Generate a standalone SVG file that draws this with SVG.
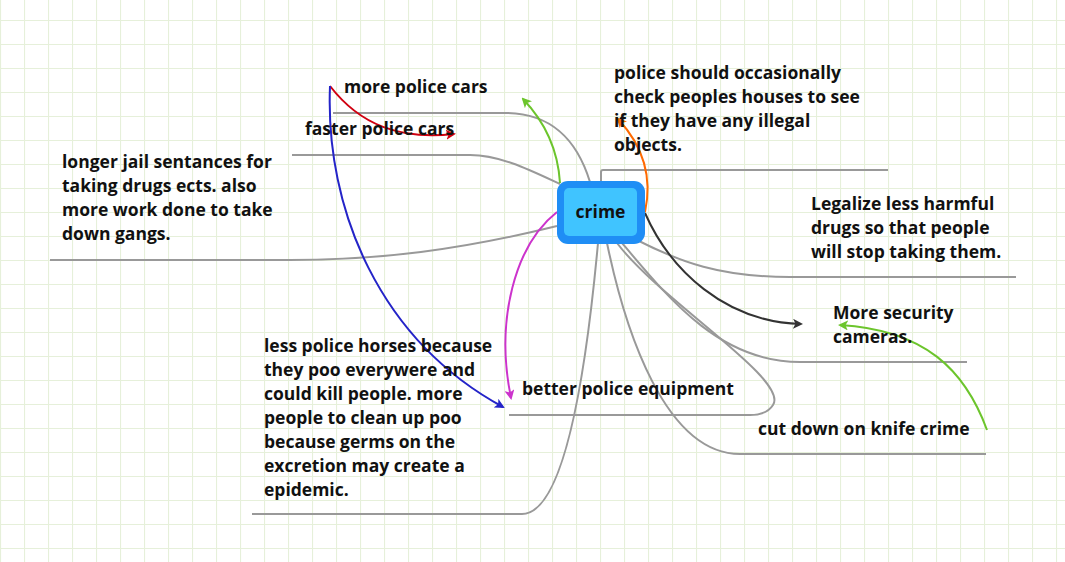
<svg xmlns="http://www.w3.org/2000/svg" width="1065" height="562" viewBox="0 0 1065 562">
<defs>
<pattern id="grid" patternUnits="userSpaceOnUse" x="0" y="20" width="24" height="24">
<path d="M0,0.5 H24 M0.5,0 V24" fill="none" stroke="#e6f0da" stroke-width="1.2"/>
</pattern>
<marker id="mGreen" viewBox="0 0 10 10" refX="8" refY="5" markerWidth="5" markerHeight="5" orient="auto" markerUnits="strokeWidth"><path d="M0,0 L10,5 L0,10 L2.5,5 Z" fill="#6cc52c"/></marker>
<marker id="mRed" viewBox="0 0 10 10" refX="8" refY="5" markerWidth="5" markerHeight="5" orient="auto" markerUnits="strokeWidth"><path d="M0,0 L10,5 L0,10 L2.5,5 Z" fill="#d00010"/></marker>
<marker id="mBlue" viewBox="0 0 10 10" refX="8" refY="5" markerWidth="5" markerHeight="5" orient="auto" markerUnits="strokeWidth"><path d="M0,0 L10,5 L0,10 L2.5,5 Z" fill="#2424c8"/></marker>
<marker id="mMag" viewBox="0 0 10 10" refX="8" refY="5" markerWidth="5" markerHeight="5" orient="auto" markerUnits="strokeWidth"><path d="M0,0 L10,5 L0,10 L2.5,5 Z" fill="#cc33cc"/></marker>
<marker id="mOrange" viewBox="0 0 10 10" refX="8" refY="5" markerWidth="5" markerHeight="5" orient="auto" markerUnits="strokeWidth"><path d="M0,0 L10,5 L0,10 L2.5,5 Z" fill="#ff6a00"/></marker>
<marker id="mBlack" viewBox="0 0 10 10" refX="8" refY="5" markerWidth="5" markerHeight="5" orient="auto" markerUnits="strokeWidth"><path d="M0,0 L10,5 L0,10 L2.5,5 Z" fill="#333333"/></marker>
</defs>
<style>
.t{font-family:"Open Sans","Liberation Sans",sans-serif;font-weight:700;font-size:17.5px;fill:#111}
.b{fill:none;stroke:#999;stroke-width:2}
.a{fill:none;stroke-width:2}
</style>
<rect width="1065" height="562" fill="#ffffff"/>
<rect width="1065" height="562" fill="url(#grid)"/>
<g id="connectors">
<path class="b" d="M590,182 C577,140 552,113 505,113 L333,113"/>
<path class="b" d="M560,184 C530,170 500,155 470,155 L292,155"/>
<path class="b" d="M557,226 C460,250 380,260 290,260 L50,260"/>
<path class="b" d="M601,181 L601,172 Q601,170 603,170 L888,170"/>
<path class="b" d="M637,240 C680,262 720,277 790,277 L1016,277"/>
<path class="b" d="M622,243 C670,300 720,362 800,362 L967,362"/>
<path class="b" d="M617,243 C660,300 790,380 773,405 C768,413 760,415 750,415 L509,415"/>
<path class="b" d="M607,243 C625,330 665,454 740,454 L986,454"/>
<path class="b" d="M598,243 C590,330 570,514 522,514 L252,514"/>
<path class="a" stroke="#6cc52c" d="M560,183 C558,150 545,122 523,99" marker-end="url(#mGreen)"/>
<path class="a" stroke="#d00010" d="M330,86 C360,125 400,140 454,134" marker-end="url(#mRed)"/>
<path class="a" stroke="#2424c8" d="M330,86 C325,210 380,340 503,407" marker-end="url(#mBlue)"/>
<path class="a" stroke="#cc33cc" d="M557,212 C515,245 495,320 511,398" marker-end="url(#mMag)"/>
<path class="a" stroke="#ff6a00" d="M645,212 C652,180 645,148 618,119" marker-end="url(#mOrange)"/>
<path class="a" stroke="#333333" d="M645,213 C670,270 725,322 801,324" marker-end="url(#mBlack)"/>
<path class="a" stroke="#6cc52c" d="M987,430 C965,370 925,330 840,325" marker-end="url(#mGreen)"/>
</g>
<g id="crime">
<rect x="557" y="181" width="88" height="63" rx="11" fill="#1f8ef5"/>
<rect x="564" y="188" width="73" height="48" rx="5" fill="#40c4ff"/>
<text class="t" x="600.5" y="218" text-anchor="middle" font-size="19">crime</text>
</g>
<g id="more-police-cars"><text class="t" x="344" y="93">more police cars</text></g>
<g id="faster-police-cars"><text class="t" x="305" y="135">faster police cars</text></g>
<g id="longer-jail">
<text class="t"><tspan x="62" y="168">longer jail sentances for</tspan><tspan x="62" y="192">taking drugs ects. also</tspan><tspan x="62" y="216">more work done to take</tspan><tspan x="62" y="240">down gangs.</tspan></text>
</g>
<g id="police-check">
<text class="t"><tspan x="614" y="79">police should occasionally</tspan><tspan x="614" y="103">check peoples houses to see</tspan><tspan x="614" y="127">if they have any illegal</tspan><tspan x="614" y="151">objects.</tspan></text>
</g>
<g id="legalize">
<text class="t"><tspan x="811" y="210">Legalize less harmful</tspan><tspan x="811" y="234">drugs so that people</tspan><tspan x="811" y="258">will stop taking them.</tspan></text>
</g>
<g id="security-cameras">
<text class="t"><tspan x="833" y="319">More security</tspan><tspan x="833" y="343">cameras.</tspan></text>
</g>
<g id="police-equipment"><text class="t" x="522" y="395">better police equipment</text></g>
<g id="police-horses">
<text class="t"><tspan x="264" y="352">less police horses because</tspan><tspan x="264" y="376">they poo everywere and</tspan><tspan x="264" y="400">could kill people. more</tspan><tspan x="264" y="424">people to clean up poo</tspan><tspan x="264" y="448">because germs on the</tspan><tspan x="264" y="472">excretion may create a</tspan><tspan x="264" y="496">epidemic.</tspan></text>
</g>
<g id="knife-crime"><text class="t" x="758" y="435">cut down on knife crime</text></g>
</svg>
